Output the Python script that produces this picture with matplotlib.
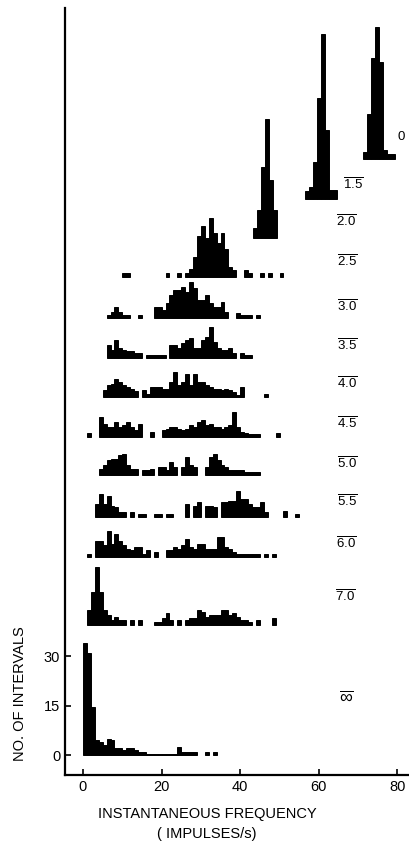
import numpy as np
import matplotlib
matplotlib.use('Agg')
import matplotlib.pyplot as plt

plt.rcParams['font.family'] = ['Liberation Sans', 'DejaVu Sans']
plt.rcParams['mathtext.fontset'] = 'custom'
plt.rcParams['mathtext.rm'] = 'Liberation Sans'

# curve labels, top to bottom
labels = ['0', '1.5', '2.0', '2.5', '3.0', '3.5', '4.0', '4.5',
          '5.0', '5.5', '6.0', '7.0', r'\infty']

# first bin (impulses/s) of each histogram, 1 impulse/s wide bins
starts = [71.3, 56.6, 43.3, 10, 6, 6, 5, 1, 4, 3, 1, 1, 0]

# counts per bin
h_0 = [2.2, 13.8, 30.5, 40, 29.5, 2.7, 1.7, 1.7]
h_15 = [2.5, 3.7, 11.3, 30.5, 50, 21, 2.7, 2.7]
h_20 = [3, 8.5, 21.5, 36, 17.5, 8.5]
h_25 = [1.2, 1.2, 0, 0, 0, 0, 0, 0, 0, 0, 0, 1.2, 0, 0, 1.2, 0, 1.2, 2.5,
        6, 12.5, 15.5, 12, 18, 13.5, 10.5, 13.5, 8.5, 3, 2.3, 0, 0, 2.3, 1.3,
        0, 0, 1.2, 0, 1.2, 0, 0, 1.2]
h_30 = [1, 2, 3.5, 2, 1, 1, 0, 0, 1, 0, 0, 0, 3.5, 3.5, 2.5, 4.5, 7, 8.5,
        8.5, 9.5, 8, 11, 9, 5.5, 5.5, 7, 4.5, 3.5, 3.5, 5, 2, 0, 0, 1.5, 1,
        1, 1, 0, 1]
h_35 = [4, 2.5, 5.5, 3, 2.5, 2, 2, 1.5, 1.5, 0, 1, 1, 1, 1, 1, 0, 4, 4, 3,
        4.5, 5.5, 6, 3, 3, 5.5, 6.5, 9.5, 5, 3, 2.5, 2.5, 3, 1.5, 0, 1.5, 1, 1]
h_40 = [2, 3.5, 4, 5.5, 4.5, 3.5, 3, 2.5, 1.8, 0, 2, 0.8, 3, 3, 3, 2.5, 2.5,
        4.5, 7.5, 3.5, 4.5, 7, 3.5, 7, 4.5, 4.5, 3.5, 3, 2.5, 2.5, 2, 2.5, 2,
        1.5, 0.5, 3, 0, 0, 0, 0, 0, 1]
h_45 = [1.3, 0, 0, 6, 4, 3, 3, 4.5, 3, 3.5, 4.5, 3, 2, 4, 0, 0, 1.5, 0, 0,
        2, 2.5, 3, 3, 2.5, 2, 2.5, 3.5, 3, 4.5, 5, 3.5, 4, 3, 3, 2.5, 3, 3.5,
        7.5, 3, 1.5, 1.3, 1, 1, 0.8, 0, 0, 0, 0, 1.3]
h_50 = [2, 3, 4.5, 5, 5, 6, 6.5, 3, 2, 2, 0, 1.5, 1.5, 2, 0, 2.5, 2.5, 1.5,
        4, 2.5, 0, 2.5, 5.5, 3, 2.5, 0, 0, 2.5, 5.5, 6.5, 4.5, 3, 2.5, 1.5,
        1.5, 1.5, 1.5, 1, 1, 1, 1]
h_55 = [4, 7, 4, 6.5, 3.5, 3, 1.5, 1.5, 0, 1.5, 0, 1, 1, 0, 0, 1, 1, 0, 1,
        1, 0, 0, 0, 4, 0, 3.5, 4.5, 0, 3.5, 3.5, 3, 0, 4.5, 4.5, 5, 5, 8, 5.5,
        5.5, 4, 3, 3, 4.5, 1.5, 0, 0, 0, 0, 2, 0, 0, 1]
h_60 = [1, 0, 5, 5, 3.5, 8, 4, 7, 5, 3.5, 2.5, 2, 3, 3, 1, 2, 0, 1.5, 0, 0,
        2, 2, 3, 2.5, 3.5, 5.5, 3, 2.5, 4, 4, 2.5, 2.5, 2.5, 6, 6, 3, 2.5, 1.5,
        1, 1, 1, 1, 1, 0.8, 0, 1, 0, 1]
h_70 = [4.5, 10, 17.7, 10, 4.5, 3, 1.5, 2.5, 1.5, 1.5, 0, 1.5, 0, 1.5, 0, 0,
        0, 1, 1, 2, 3.5, 1.5, 0, 1.5, 0, 1.5, 2, 2, 4.5, 4, 2.5, 3, 3, 3, 4.5,
        4.5, 3, 3.5, 2.5, 1.5, 1.5, 1, 0, 1.5, 0, 0, 0, 2]
h_inf = [34, 31, 14.5, 4.5, 4, 3, 5, 4.5, 2, 2, 1.5, 2, 2, 1.5, 1, 1, 0.3,
         0.3, 0.3, 0.3, 0.3, 0.3, 0.3, 0.3, 2.5, 1, 1, 1, 1, 0, 0, 1, 0, 1]

hists = [h_0, h_15, h_20, h_25, h_30, h_35, h_40, h_45, h_50, h_55, h_60,
         h_70, h_inf]

# layout: vertical offset of each baseline and label placement (count units)
offsets = [180.6, 168.5, 156.7, 144.8, 132.4, 120.3, 108.5, 96.4, 84.8,
           72.1, 60, 39.4, 0]
label_x = [81, 68.8, 67, 67.2, 67.2, 67.2, 67.2, 67.2, 67.2, 67.2, 67,
           66.7, 67]
label_y = [187.3, 172.7, 161.5, 149.4, 136, 123.9, 112.4, 100.3, 88.2,
           76.7, 63.9, 47.9, 17.3]

fig = plt.figure(figsize=(4.09, 8.44), dpi=100)
ax = fig.add_axes([65 / 409, 69 / 844, 344 / 409, 767 / 844])

for lab, x0, h, off, lx, ly in zip(labels, starts, hists, offsets,
                                   label_x, label_y):
    h = np.array(h, dtype=float)
    x = x0 + np.arange(len(h))
    keep = h > 0
    # thin black edge gives the slightly spread ink of the printed figure
    ax.bar(x[keep], h[keep], width=1.0, bottom=off, align='edge',
           color='black', edgecolor='black', linewidth=0.7)
    if lab == '0':
        txt, fs = lab, 9.5
    elif lab == r'\infty':
        txt, fs = r'$\overline{\infty}$', 13
    else:
        txt, fs = r'$\overline{\mathrm{%s}}$' % lab, 9.5
    ax.text(lx, ly, txt, ha='center', va='center', fontsize=fs)

ax.set_xlim(-4.58, 82.95)
ax.set_ylim(-6.06, 226.4)
ax.set_xticks([0, 20, 40, 60, 80])
ax.set_yticks([0, 15, 30])
ax.tick_params(direction='in', length=4, width=1.2, labelsize=10.5)
for s in ['top', 'right']:
    ax.spines[s].set_visible(False)
for s in ['left', 'bottom']:
    ax.spines[s].set_linewidth(1.6)

ax.set_xlabel('INSTANTANEOUS FREQUENCY\n( IMPULSES/s)', fontsize=10.5,
              linespacing=1.5)
ax.xaxis.set_label_coords(0.413, -0.042)
ax.set_ylabel('NO. OF INTERVALS', fontsize=10.5)
ax.yaxis.set_label_coords(-0.11, 0.106)

plt.savefig('out.png', dpi=100)
